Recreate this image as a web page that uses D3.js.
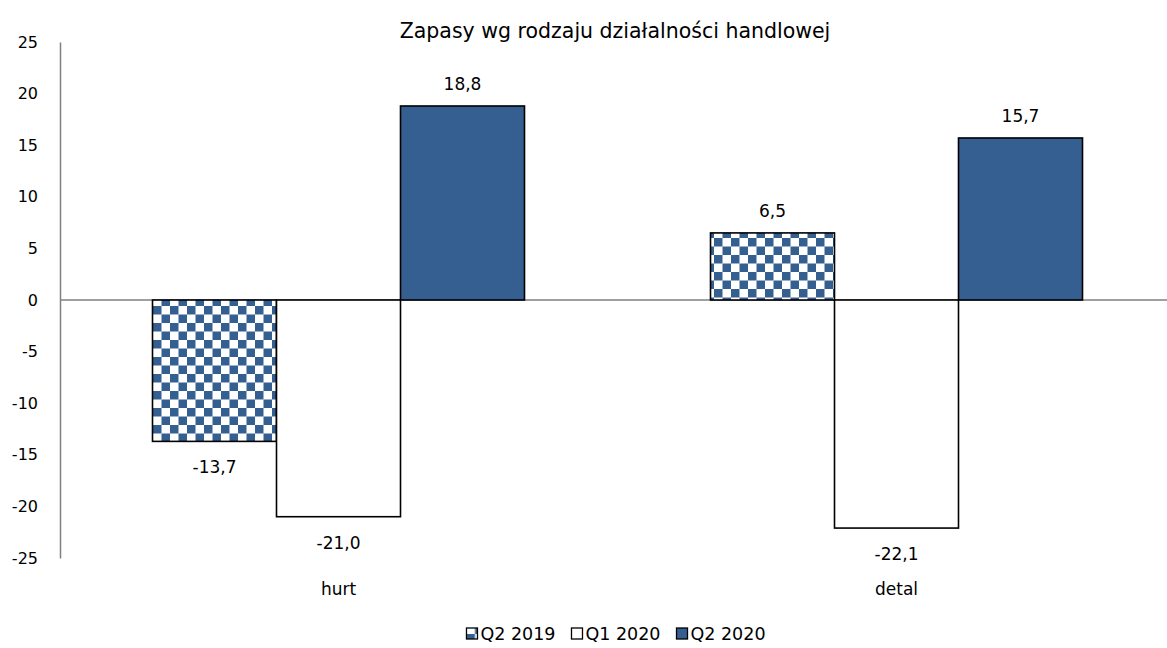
<!DOCTYPE html>
<html>
<head>
<meta charset="utf-8">
<script src="https://cdn.jsdelivr.net/npm/d3@7"></script>
<style>
  body { margin: 0; background: #fff; }
  text { font-family: "DejaVu Sans", sans-serif; fill: #000; }
</style>
</head>
<body>
<svg id="chart"></svg>
<script>
// ---- DATA ---- //
const categories = ["hurt", "detal"];
const seriesNames = ["Q2 2019", "Q1 2020", "Q2 2020"];
const valuesQ2_2019 = [-13.7, 6.5];
const valuesQ1_2020 = [-21.0, -22.1];
const valuesQ2_2020 = [18.8, 15.7];
const yTicks = [25, 20, 15, 10, 5, 0, -5, -10, -15, -20, -25];
const title = "Zapasy wg rodzaju działalności handlowej";

const seriesValues = [valuesQ2_2019, valuesQ1_2020, valuesQ2_2020];
const blue = "#365F91";

// ---- CHART ---- //
const width = 1167, height = 648;

const svg = d3.select("#chart")
  .attr("width", width)
  .attr("height", height);

// checker pattern for Q2 2019
const defs = svg.append("defs");
const pat = defs.append("pattern")
  .attr("id", "checker")
  .attr("patternUnits", "userSpaceOnUse")
  .attr("width", 17)
  .attr("height", 17);
pat.append("rect").attr("width", 17).attr("height", 17).attr("fill", "#fff");
pat.append("rect").attr("width", 8.5).attr("height", 8.5).attr("fill", blue);
pat.append("rect").attr("x", 8.5).attr("y", 8.5).attr("width", 8.5).attr("height", 8.5).attr("fill", blue);

const fills = ["url(#checker)", "#fff", blue];

// scales
const x0 = d3.scaleBand()
  .domain(categories)
  .range([59.5, 1175.5]);
const x1 = d3.scaleBand()
  .domain(seriesNames)
  .range([0, x0.bandwidth()])
  .paddingOuter(0.75);
const y = d3.scaleLinear()
  .domain([-25, 25])
  .range([558, 42]);

// title
svg.append("text")
  .attr("x", 615)
  .attr("y", 38)
  .attr("text-anchor", "middle")
  .style("font-size", "20.5px")
  .text(title);

// y axis
const yAxis = d3.axisLeft(y).tickValues(yTicks).tickSize(0).tickPadding(22)
  .tickFormat(d => d);
const gy = svg.append("g")
  .attr("transform", "translate(60,0)")
  .call(yAxis);
gy.select(".domain").attr("stroke", "#808080").attr("stroke-width", 1.5);
gy.selectAll(".tick text")
  .style("font-size", "16px")
  .attr("dy", "0.32em");

// bars
const rows = [];
categories.forEach((c, i) => {
  seriesNames.forEach((s, j) => {
    rows.push({cat: c, series: s, value: seriesValues[j][i], idx: j});
  });
});

// zero line
svg.append("line")
  .attr("x1", 60).attr("x2", 1167)
  .attr("y1", y(0)).attr("y2", y(0))
  .attr("stroke", "#808080")
  .attr("stroke-width", 1.5);

const groups = svg.append("g");
groups.selectAll("rect")
  .data(rows)
  .enter().append("rect")
    .attr("x", d => x0(d.cat) + x1(d.series))
    .attr("y", d => y(Math.max(0, d.value)))
    .attr("width", x1.bandwidth())
    .attr("height", d => Math.abs(y(d.value) - y(0)))
    .attr("fill", d => fills[d.idx])
    .attr("stroke", "#000")
    .attr("stroke-width", 1.6);

// value labels
svg.selectAll(".vlabel")
  .data(rows)
  .enter().append("text")
    .attr("class", "vlabel")
    .attr("x", d => x0(d.cat) + x1(d.series) + x1.bandwidth() / 2)
    .attr("y", d => d.value >= 0 ? y(d.value) - 16 : y(d.value) + 32)
    .attr("text-anchor", "middle")
    .style("font-size", "17px")
    .text(d => d.value.toFixed(1).replace(".", ","));

// category labels
svg.selectAll(".clabel")
  .data(categories)
  .enter().append("text")
    .attr("class", "clabel")
    .attr("x", d => x0(d) + x0.bandwidth() / 2)
    .attr("y", 595)
    .attr("text-anchor", "middle")
    .style("font-size", "17px")
    .text(d => d);

// legend: laid out in a row, centred under the chart
const legend = svg.append("g");
const item = legend.selectAll("g")
  .data(seriesNames)
  .enter().append("g");
item.append("rect")
  .attr("x", 0).attr("y", -6)
  .attr("width", 11).attr("height", 11)
  .attr("fill", (d, i) => fills[i])
  .attr("stroke", "#000")
  .attr("stroke-width", 1.3);
item.append("text")
  .attr("x", 14)
  .attr("y", 6)
  .style("font-size", "17.5px")
  .text(d => d);

let cursor = 0;
const offsets = [];
item.each(function() {
  offsets.push(cursor);
  cursor += this.getBBox().width + 16;
});
const legendWidth = cursor - 16;
const legendStart = 616 - legendWidth / 2;
item.attr("transform", (d, i) => "translate(" + (legendStart + offsets[i]) + ",634)");
</script>
</body>
</html>
